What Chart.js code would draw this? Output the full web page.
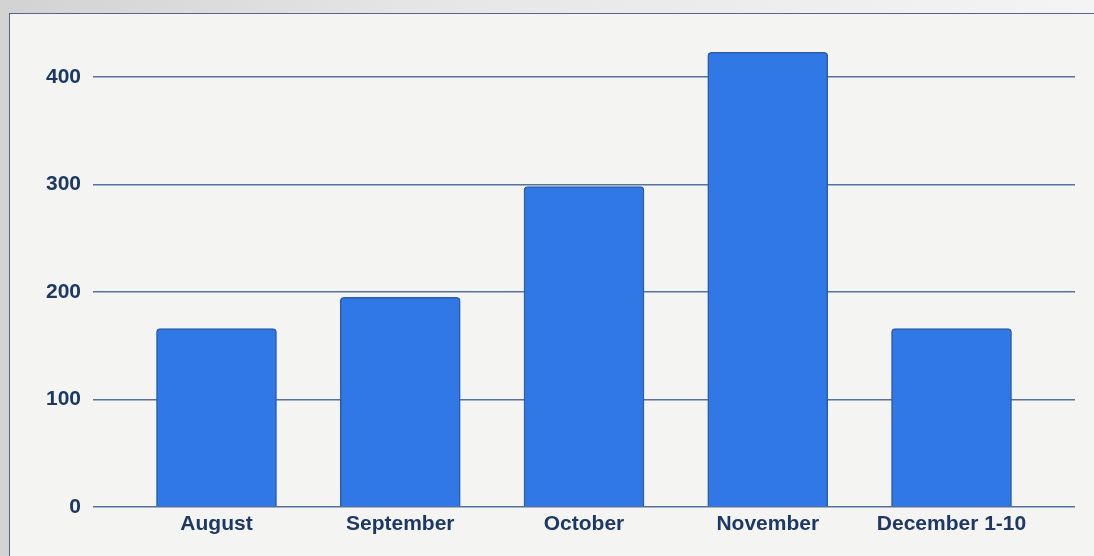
<!DOCTYPE html>
<html>
<head>
<meta charset="utf-8">
<script src="https://cdn.jsdelivr.net/npm/chart.js@4/dist/chart.umd.min.js"></script>
<style>
  html, body { margin: 0; padding: 0; width: 1094px; height: 556px; overflow: hidden; }
  body { background: linear-gradient(to right, #d2d2d2 0%, #e6e6e6 40%, #f4f4f4 100%); position: relative; }
  #card { position: absolute; left: 9px; top: 13px; right: 0; bottom: 0;
          background: #f4f4f2; border-left: 1px solid #50688f; border-top: 1px solid #50688f; }
  #c { position: absolute; left: 0; top: 0; }
</style>
</head>
<body>
<div id="card"></div>
<canvas id="c" width="1094" height="556"></canvas>
<script>
const categories = ["August", "September", "October", "November", "December 1-10"];
const values = [166, 195, 298, 423, 166];
const yTicks = [0, 100, 200, 300, 400];

const textColor = "#1e3865";
const gridColor = "#55729e";
const font = { family: "'Liberation Sans', Arial, sans-serif", size: 21, weight: "bold" };

new Chart(document.getElementById("c"), {
  type: "bar",
  data: {
    datasets: [{
      data: values.map((v, i) => ({ x: i, y: v })),
      backgroundColor: "#2f78e6",
      borderColor: "#2b5cae",
      borderWidth: 1.5,
      borderSkipped: "bottom",
      borderRadius: { topLeft: 4, topRight: 4, bottomLeft: 0, bottomRight: 0 },
      barThickness: 120
    }]
  },
  options: {
    responsive: false,
    animation: false,
    devicePixelRatio: 1,
    layout: { padding: { top: 34, right: 19, left: 0, bottom: 0 } },
    plugins: { legend: { display: false }, tooltip: { enabled: false } },
    scales: {
      x: {
        type: "linear",
        offset: false,
        min: -0.672,
        max: 4.672,
        grid: { display: false, drawTicks: false, offset: false },
        border: { display: false },
        afterBuildTicks: (s) => { s.ticks = categories.map((_, i) => ({ value: i })); },
        afterFit: (s) => { s.height = 49; },
        ticks: {
          autoSkip: false,
          maxRotation: 0,
          padding: 5,
          color: textColor,
          font: font,
          callback: (v) => categories[v]
        }
      },
      y: {
        min: 0,
        max: 440,
        grid: { color: gridColor, lineWidth: 1.5, drawTicks: false },
        border: { display: false },
        afterBuildTicks: (s) => { s.ticks = yTicks.map(v => ({ value: v })); },
        afterFit: (s) => { s.width = 93; },
        ticks: { padding: 12, color: textColor, font: font }
      }
    }
  }
});
</script>
</body>
</html>
